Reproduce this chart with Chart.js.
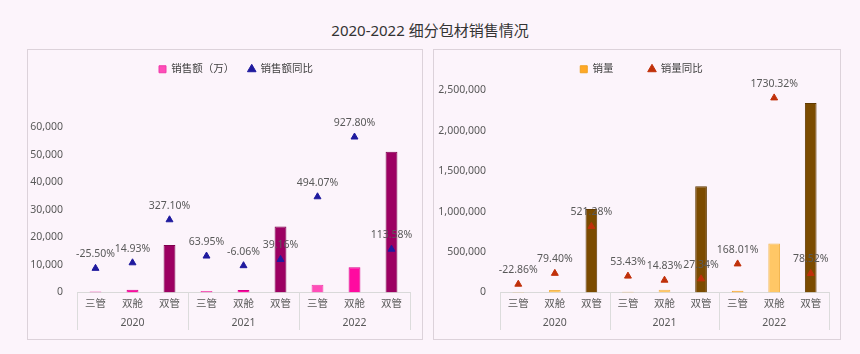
<!DOCTYPE html>
<html>
<head>
<meta charset="utf-8">
<script src="https://cdn.jsdelivr.net/npm/chart.js@4.4.0/dist/chart.umd.min.js"></script>
<style>
    body {
        margin: 0;
        width: 860px;
        height: 354px;
        background: #fcf4fb;
        font-family: 'Noto Sans', 'Noto Sans CJK SC', sans-serif;
        position: relative;
        overflow: hidden;
    }
    .titulo {
        position: absolute;
        left: 0;
        top: 19px;
        width: 860px;
        text-align: center;
        font-size: 15px;
        line-height: 22px;
        color: #333333;
    }
    .caixa {
        position: absolute;
        top: 49px;
        height: 291px;
        border: 1px solid #dcd2da;
        box-sizing: border-box;
    }
    .caixa div {
        position: absolute;
        left: 0;
        top: 0;
        width: 100%;
        height: 100%;
    }
</style>
</head>
<body>
<div class="titulo">2020-2022 细分包材销售情况</div>
<div class="caixa" style="left:27px; width:396px;"><div><canvas id="graficoValor"></canvas></div></div>
<div class="caixa" style="left:433px; width:408px;"><div><canvas id="graficoQtd"></canvas></div></div>

<script>
// dados
const categorias = ['三管', '双舱', '双管', '三管', '双舱', '双管', '三管', '双舱', '双管'];
const anos = ['2020', '2021', '2022'];

const vendasValor = [287, 942, 17160, 471, 885, 23880, 2800, 9100, 51000];
const vendasValorYoY = [-25.50, 14.93, 327.10, 63.95, -6.06, 39.16, 494.07, 927.80, 113.58];
const ticksValor = [0, 10000, 20000, 30000, 40000, 50000, 60000];

const vendasQtd = [5100, 28800, 1031600, 7800, 33000, 1313600, 21000, 605000, 2345000];
const vendasQtdYoY = [-22.86, 79.40, 521.28, 53.43, 14.83, 27.34, 168.01, 1730.32, 78.52];
const ticksQtd = [0, 500000, 1000000, 1500000, 2000000, 2500000];

const fonte = "'Noto Sans', 'Noto Sans CJK SC', sans-serif";

const coresValor = { '三管': '#ff4db8', '双舱': '#ff0aa0', '双管': '#9c0062' };
const bordasValor = { '三管': '#f03aa8', '双舱': '#d8008a', '双管': '#7e004e' };
const coresQtd = { '三管': '#ffa826', '双舱': '#ffc766', '双管': '#7b4b00' };
const bordasQtd = { '三管': '#eea020', '双舱': '#f2b650', '双管': '#603a00' };

// rótulos de percentual acima dos triângulos
const rotulosPct = {
    id: 'rotulosPct',
    afterDatasetsDraw(chart) {
        const ctx = chart.ctx;
        const ds = chart.data.datasets[1];
        const meta = chart.getDatasetMeta(1);
        ctx.save();
        ctx.font = '10.5px ' + fonte;
        ctx.fillStyle = '#595959';
        ctx.textAlign = 'center';
        ctx.textBaseline = 'middle';
        meta.data.forEach((p, i) => {
            ctx.fillText(ds.data[i].toFixed(2) + '%', p.x, p.y - 14);
        });
        ctx.restore();
    }
};

// linhas verticais separando os anos no eixo x
const separadores = {
    id: 'separadores',
    afterDraw(chart) {
        const x = chart.scales.x;
        const x2 = chart.scales.x2;
        const ctx = chart.ctx;
        const porAno = categorias.length / anos.length;
        ctx.save();
        ctx.strokeStyle = '#dcdcdc';
        ctx.lineWidth = 1;
        for (let g = 0; g <= anos.length; g++) {
            const px = Math.round(x.getPixelForValue(g * porAno - 0.5)) + 0.5;
            ctx.beginPath();
            ctx.moveTo(px, chart.chartArea.bottom);
            ctx.lineTo(px, x2.bottom + 1);
            ctx.stroke();
        }
        ctx.restore();
    }
};

// ajusta altura e posição da legenda
function ajusteLegenda(extra, dx) {
    return {
        id: 'ajusteLegenda',
        beforeInit(chart) {
            const legenda = chart.legend;
            const fitOriginal = legenda.fit;
            const drawOriginal = legenda.draw;
            legenda.fit = function () {
                fitOriginal.call(this);
                this.height += extra;
            };
            legenda.draw = function (...args) {
                this.ctx.save();
                this.ctx.translate(dx, 0);
                drawOriginal.apply(this, args);
                this.ctx.restore();
            };
        }
    };
}

function criarGrafico(id, cfg) {
    const ctx = document.getElementById(id);
    return new Chart(ctx, {
        data: {
            labels: categorias,
            datasets: [{
                type: 'bar',
                label: cfg.rotuloBarra,
                data: cfg.barras,
                backgroundColor: categorias.map(c => cfg.cores[c]),
                borderColor: categorias.map(c => cfg.bordas[c]),
                borderWidth: 1,
                barPercentage: 0.32,
                categoryPercentage: 1,
                pointStyle: 'rect',
                yAxisID: 'y',
                order: 2
            }, {
                type: 'line',
                label: cfg.rotuloLinha,
                data: cfg.pct,
                showLine: false,
                pointStyle: 'triangle',
                pointRadius: 4,
                backgroundColor: cfg.corTriangulo,
                borderColor: cfg.corTriangulo,
                pointBackgroundColor: cfg.corTriangulo,
                pointBorderColor: cfg.corTriangulo,
                yAxisID: 'y1',
                order: 1
            }]
        },
        options: {
            responsive: true,
            maintainAspectRatio: false,
            animation: false,
            layout: { padding: { left: 0, right: cfg.padDireita, top: 0, bottom: 10 } },
            plugins: {
                tooltip: { enabled: false },
                legend: {
                    position: 'top',
                    labels: {
                        usePointStyle: true,
                        boxWidth: 7,
                        boxHeight: 7,
                        padding: 14,
                        color: '#404040',
                        font: { size: 10.5, family: fonte },
                        generateLabels: chart => {
                            const itens = Chart.defaults.plugins.legend.labels.generateLabels(chart);
                            const barra = itens.find(it => it.datasetIndex === 0);
                            barra.text += '\u3000'.repeat(cfg.folgaLegenda);
                            return itens;
                        },
                        sort: (a, b) => a.datasetIndex - b.datasetIndex
                    }
                }
            },
            scales: {
                x: {
                    weight: 0,
                    offset: true,
                    grid: { display: false, drawTicks: false },
                    border: { display: true, color: '#d9d9d9' },
                    ticks: { color: '#595959', font: { size: 10.5, family: fonte }, padding: 5.7, maxRotation: 0, autoSkip: false }
                },
                x2: {
                    type: 'category',
                    position: 'bottom',
                    weight: 1,
                    labels: anos,
                    offset: true,
                    grid: { display: false, drawTicks: false },
                    border: { display: false },
                    ticks: { color: '#595959', font: { size: 10.5, family: fonte }, padding: 0, maxRotation: 0 }
                },
                y: {
                    min: 0,
                    max: cfg.maxY,
                    grid: { display: false },
                    border: { display: false },
                    ticks: {
                        color: '#595959',
                        font: { size: 10.5, family: fonte },
                        padding: 6,
                        callback: v => v.toLocaleString('en-US')
                    },
                    afterBuildTicks: s => { s.ticks = cfg.ticks.map(v => ({ value: v })); },
                    afterFit: s => { s.width = cfg.larguraY; }
                },
                y1: {
                    display: false,
                    min: cfg.minPct,
                    max: cfg.maxPct
                }
            }
        },
        plugins: [rotulosPct, separadores, ajusteLegenda(cfg.extraLegenda, cfg.dxLegenda)]
    });
}

criarGrafico('graficoValor', {
    rotuloBarra: '销售额（万）',
    rotuloLinha: '销售额同比',
    barras: vendasValor,
    pct: vendasValorYoY,
    ticks: ticksValor,
    maxY: 70000,
    minPct: -200,
    maxPct: 1200,
    cores: coresValor,
    bordas: bordasValor,
    corTriangulo: '#1f1a9e',
    padDireita: 12,
    larguraY: 49,
    folgaLegenda: 0,
    extraLegenda: 15,
    dxLegenda: 17
});

criarGrafico('graficoQtd', {
    rotuloBarra: '销量',
    rotuloLinha: '销量同比',
    barras: vendasQtd,
    pct: vendasQtdYoY,
    ticks: ticksQtd,
    maxY: 2500000,
    minPct: -100,
    maxPct: 1800,
    cores: coresQtd,
    bordas: bordasQtd,
    corTriangulo: '#c0300a',
    padDireita: 11,
    larguraY: 66,
    folgaLegenda: 2,
    extraLegenda: 6,
    dxLegenda: 10
});
</script>
</body>
</html>
